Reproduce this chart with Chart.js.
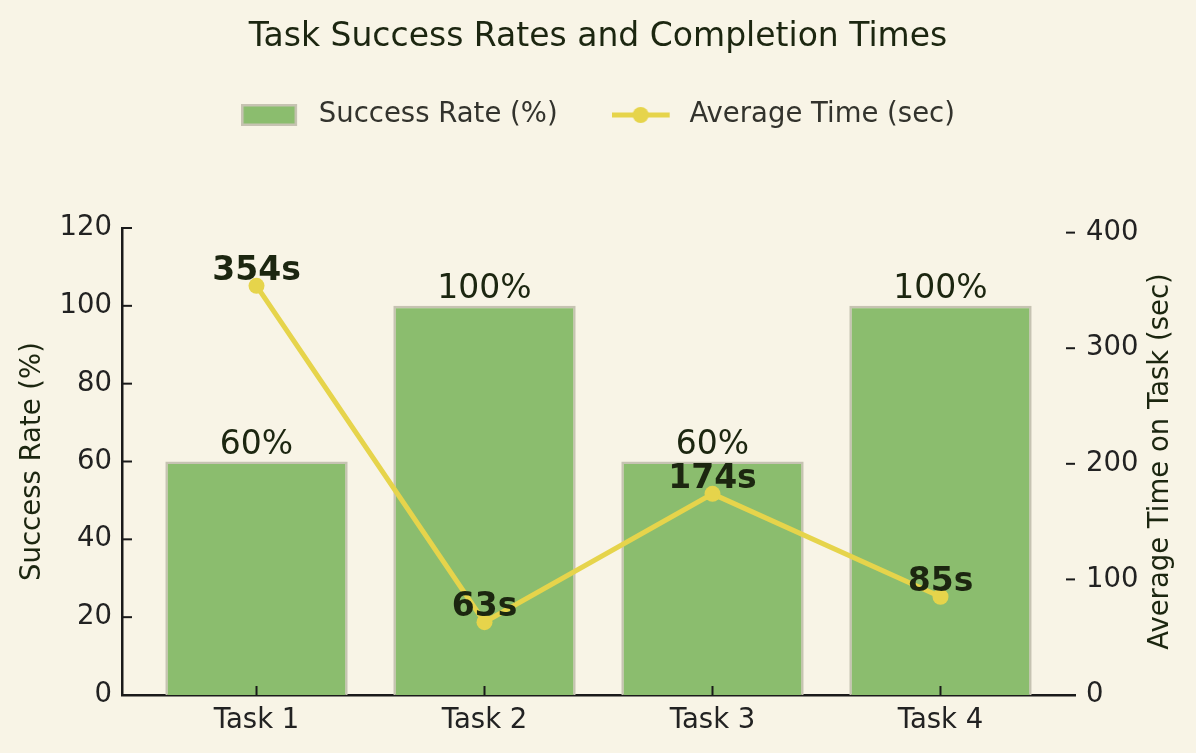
<!DOCTYPE html>
<html>
<head>
<meta charset="utf-8">
<script src="https://cdn.jsdelivr.net/npm/chart.js@4.4.1/dist/chart.umd.min.js"></script>
<style>
  html, body { margin: 0; padding: 0; background: #f8f4e6; }
  #wrap { width: 1196px; height: 753px; position: relative; }
</style>
</head>
<body>
<div id="wrap"><canvas id="c"></canvas></div>
<script>
// ---- data ----
const categories = ['Task 1', 'Task 2', 'Task 3', 'Task 4'];
const successRates = [60, 100, 60, 100];
const avgTimes = [354, 63, 174, 85];
const leftTicks = [0, 20, 40, 60, 80, 100, 120];
const rightTicks = [0, 100, 200, 300, 400];
const titleText = 'Task Success Rates and Completion Times';
const seriesNames = ['Success Rate (%)', 'Average Time (sec)'];
const axisTitles = ['Success Rate (%)', 'Average Time on Task (sec)'];

// ---- styles ----
const FONT = "'DejaVu Sans', 'Liberation Sans', sans-serif";
const BG = '#f8f4e6';
const BAR_FILL = '#8bbd6e';
const BAR_EDGE = '#c6c3b2';
const LINE_COL = '#e6d44b';
const DARK = '#1c2610';
const TICK_COL = '#222222';
const SPINE = '#1a1a1a';

function barIcon() {
  const c = document.createElement('canvas');
  c.width = 64; c.height = 24;
  const g = c.getContext('2d');
  g.fillStyle = BAR_FILL; g.fillRect(1, 2, 54, 20);
  g.strokeStyle = BAR_EDGE; g.lineWidth = 2.5; g.strokeRect(1.25, 2.25, 53.5, 19.5);
  return c;
}
function lineIcon() {
  const c = document.createElement('canvas');
  c.width = 64; c.height = 20;
  const g = c.getContext('2d');
  g.strokeStyle = LINE_COL; g.lineWidth = 5;
  g.beginPath(); g.moveTo(0, 10); g.lineTo(58, 10); g.stroke();
  g.fillStyle = LINE_COL; g.beginPath(); g.arc(29, 10, 8, 0, Math.PI * 2); g.fill();
  return c;
}
const icons = [barIcon(), lineIcon()];

const bgPlugin = {
  id: 'bg',
  beforeDraw(chart) {
    const ctx = chart.ctx;
    ctx.save(); ctx.fillStyle = BG; ctx.fillRect(0, 0, chart.width, chart.height); ctx.restore();
  }
};

const labelPlugin = {
  id: 'valueLabels',
  afterDatasetsDraw(chart) {
    const ctx = chart.ctx;
    ctx.save();
    ctx.textAlign = 'center';
    ctx.textBaseline = 'alphabetic';
    ctx.fillStyle = DARK;
    const barMeta = chart.getDatasetMeta(0);
    ctx.font = `33px ${FONT}`;
    barMeta.data.forEach((el, i) => {
      ctx.fillText(successRates[i] + '%', el.x, el.y - 8);
    });
    const lineMeta = chart.getDatasetMeta(1);
    ctx.font = `bold 33px ${FONT}`;
    lineMeta.data.forEach((el, i) => {
      ctx.fillText(avgTimes[i] + 's', el.x, el.y - 6);
    });
    ctx.restore();
  }
};

const tickPlugin = {
  id: 'inwardTicks',
  afterDraw(chart) {
    const { ctx, chartArea: a, scales } = chart;
    ctx.save();
    ctx.strokeStyle = SPINE;
    ctx.lineWidth = 2;
    const seg = (x1, y1, x2, y2) => { ctx.beginPath(); ctx.moveTo(x1, y1); ctx.lineTo(x2, y2); ctx.stroke(); };
    scales.y.ticks.forEach(t => { const y = scales.y.getPixelForValue(t.value); seg(a.left, y, a.left + 10, y); });
    scales.y2.ticks.forEach(t => { const y = scales.y2.getPixelForValue(t.value); seg(a.right - 9, y, a.right, y); });
    scales.x.ticks.forEach(t => { const x = scales.x.getPixelForValue(t.value); seg(x, a.bottom, x, a.bottom - 9); });
    // right axis title, reading bottom-to-top
    ctx.fillStyle = DARK;
    ctx.font = `27.5px ${FONT}`;
    ctx.textAlign = 'center';
    ctx.textBaseline = 'middle';
    ctx.translate(1161, (a.top + a.bottom) / 2);
    ctx.rotate(-Math.PI / 2);
    ctx.fillText(axisTitles[1], 0, 0);
    ctx.restore();
  }
};

new Chart(document.getElementById('c'), {
  data: {
    datasets: [
      {
        type: 'bar',
        label: seriesNames[0],
        data: categories.map((c, i) => ({ x: i, y: successRates[i] })),
        backgroundColor: BAR_FILL,
        borderColor: BAR_EDGE,
        borderWidth: 2.5,
        barPercentage: 0.8,
        categoryPercentage: 1.0,
        xAxisID: 'x',
        yAxisID: 'y',
        order: 2
      },
      {
        type: 'line',
        label: seriesNames[1],
        data: categories.map((c, i) => ({ x: i, y: avgTimes[i] })),
        borderColor: LINE_COL,
        backgroundColor: LINE_COL,
        borderWidth: 5,
        pointRadius: 8,
        pointHoverRadius: 8,
        pointBorderWidth: 0,
        pointBackgroundColor: LINE_COL,
        tension: 0,
        xAxisID: 'x',
        yAxisID: 'y2',
        order: 1
      }
    ]
  },
  options: {
    responsive: true,
    maintainAspectRatio: false,
    animation: false,
    layout: { padding: 0 },
    plugins: {
      title: {
        display: true,
        text: titleText,
        color: DARK,
        font: { family: FONT, size: 33, weight: 'normal', lineHeight: '20px' },
        padding: { top: 27, bottom: 0.25 }
      },
      subtitle: {
        display: true,
        text: '',
        weight: 500,
        font: { family: FONT, size: 10, lineHeight: '1px' },
        padding: { top: 88.25, bottom: 0 }
      },
      legend: {
        display: true,
        position: 'top',
        labels: {
          usePointStyle: true,
          pointStyleWidth: 64,
          padding: 54,
          color: '#33332d',
          font: { family: FONT, size: 27.5 },
          generateLabels(chart) {
            return chart.data.datasets.map((ds, i) => ({
              text: ds.label,
              pointStyle: icons[i],
              fillStyle: 'transparent',
              strokeStyle: 'transparent',
              lineWidth: 0,
              fontColor: '#33332d',
              hidden: false,
              datasetIndex: i
            }));
          }
        }
      },
      tooltip: { enabled: false }
    },
    scales: {
      x: {
        type: 'linear',
        position: 'bottom',
        min: -0.59,
        max: 3.59,
        offset: false,
        z: 1,
        grid: { display: false, drawTicks: false, offset: false },
        border: { display: true, color: SPINE, width: 2.5 },
        afterBuildTicks: s => { s.ticks = categories.map((c, i) => ({ value: i })); },
        ticks: {
          callback: v => categories[v],
          color: TICK_COL,
          font: { family: FONT, size: 27.5 },
          padding: 9.5,
          maxRotation: 0,
          autoSkip: false
        },
        afterFit: s => { s.height = 58; }
      },
      y: {
        type: 'linear',
        position: 'left',
        min: 0,
        max: 120,
        z: 1,
        grid: { display: false, drawTicks: false },
        border: { display: true, color: SPINE, width: 2.5 },
        afterBuildTicks: s => { s.ticks = leftTicks.map(v => ({ value: v })); },
        ticks: {
          color: TICK_COL,
          font: { family: FONT, size: 27.5 },
          padding: 10
        },
        title: {
          display: true,
          text: axisTitles[0],
          color: DARK,
          font: { family: FONT, size: 27.5 },
          padding: { top: 16.5, bottom: 0 }
        },
        afterFit: s => { s.width = 122; }
      },
      y2: {
        type: 'linear',
        position: 'right',
        min: 0,
        max: 404,
        grid: { display: false, drawTicks: false },
        border: { display: false },
        afterBuildTicks: s => { s.ticks = rightTicks.map(v => ({ value: v })); },
        ticks: {
          color: TICK_COL,
          font: { family: FONT, size: 27.5 },
          padding: 11
        },
        title: { display: false },
        afterFit: s => { s.width = 121; }
      }
    }
  },
  plugins: [bgPlugin, labelPlugin, tickPlugin]
});
</script>
</body>
</html>
